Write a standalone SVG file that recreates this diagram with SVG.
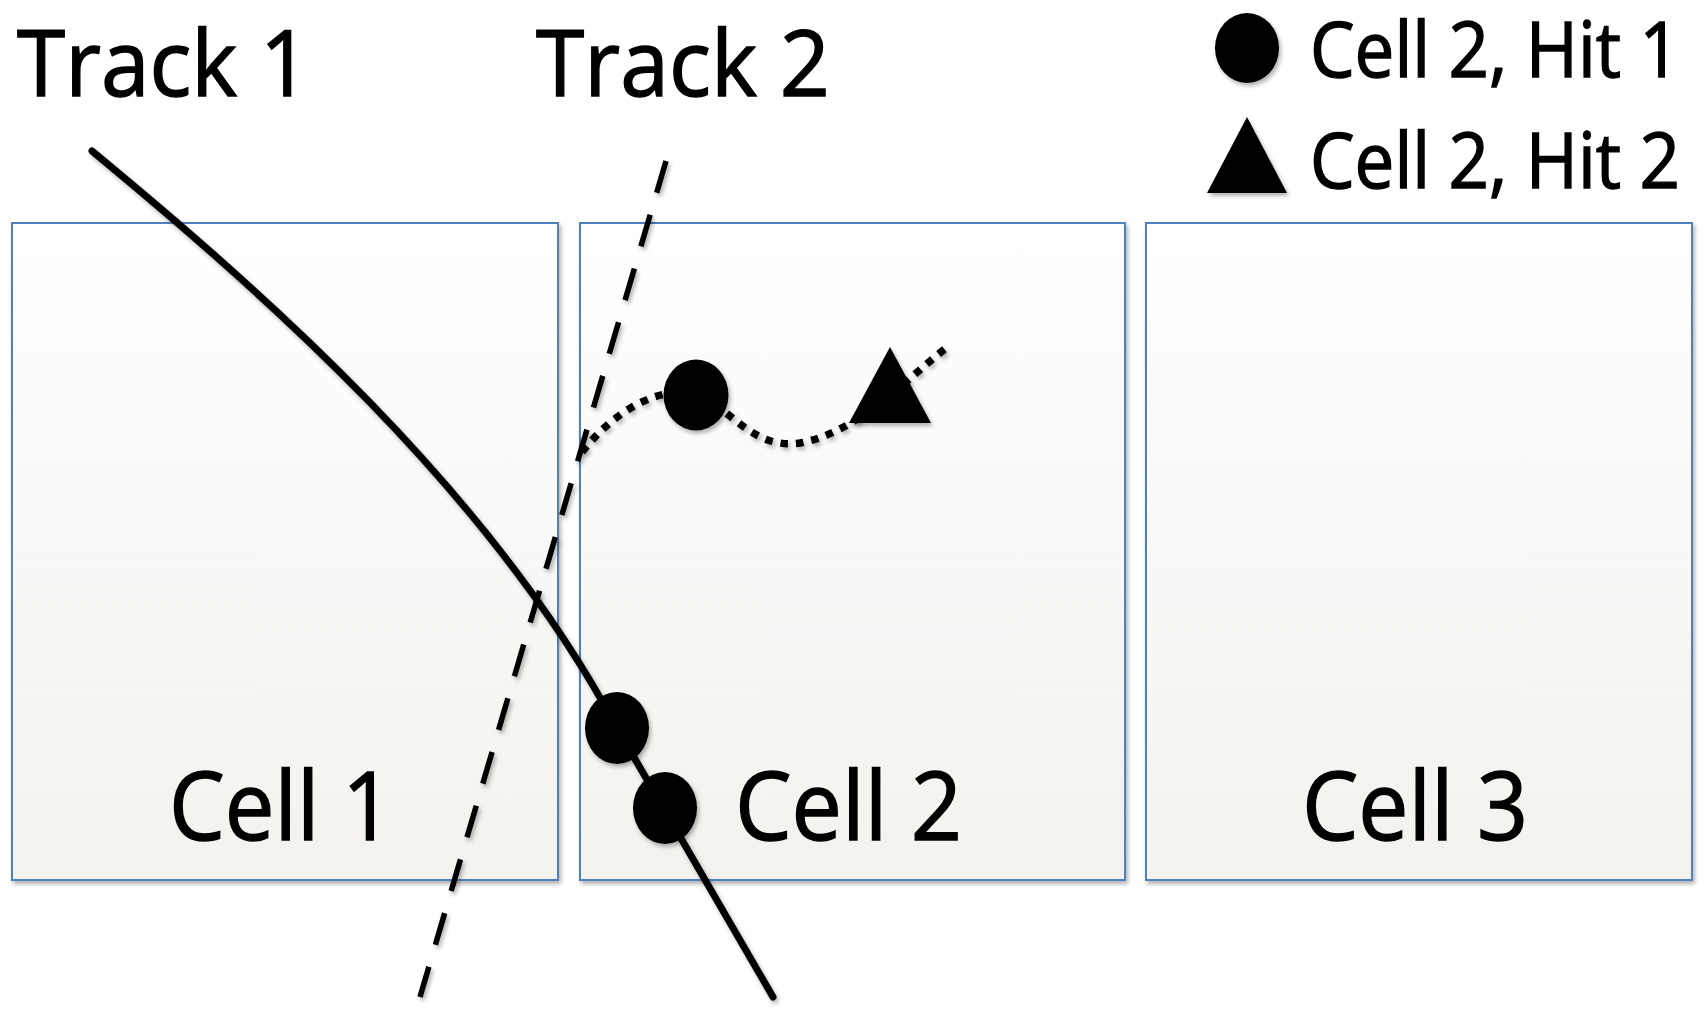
<svg xmlns="http://www.w3.org/2000/svg" width="1708" height="1012" viewBox="0 0 1708 1012">
  <defs>
    <linearGradient id="cellFill" x1="0" y1="0" x2="0" y2="1">
      <stop offset="0" stop-color="#FFFFFF"/>
      <stop offset="1" stop-color="#F3F2EE"/>
    </linearGradient>
    <filter id="shadow" x="-10%" y="-10%" width="130%" height="130%">
      <feDropShadow dx="2" dy="3" stdDeviation="2" flood-color="#000" flood-opacity="0.3"/>
    </filter>
    <style>
      .cell { fill: url(#cellFill); stroke: #4F81BD; stroke-width: 2; }
      .label { font-family: "Open Sans", "Noto Sans", "Liberation Sans", sans-serif; fill: #000; stroke: #000; stroke-width: 1.4; }
      .big { font-size: 92px; }
      .cellTxt { font-size: 96px; }
      .legendTxt { font-size: 76px; }
      .hit { fill: #000; }
      .solid { fill: none; stroke: #000; stroke-width: 7; stroke-linecap: round; }
      .dashed { fill: none; stroke: #000; stroke-width: 5.5; stroke-dasharray: 33 23; }
      .dotted { fill: none; stroke: #000; stroke-width: 7.5; stroke-dasharray: 7.5 8; }
    </style>
  </defs>
  <rect x="0" y="0" width="1708" height="1012" fill="#FFFFFF"/>

  <g id="cell1">
    <rect class="cell" x="12" y="223" width="546" height="657" filter="url(#shadow)"/>
    <text class="label cellTxt" x="169" y="840" textLength="224" lengthAdjust="spacingAndGlyphs">Cell 1</text>
  </g>
  <g id="cell2">
    <rect class="cell" x="580" y="223" width="545" height="657" filter="url(#shadow)"/>
    <text class="label cellTxt" x="735" y="840" textLength="227" lengthAdjust="spacingAndGlyphs">Cell 2</text>
  </g>
  <g id="cell3">
    <rect class="cell" x="1146" y="223" width="546" height="657" filter="url(#shadow)"/>
    <text class="label cellTxt" x="1302" y="840" textLength="226" lengthAdjust="spacingAndGlyphs">Cell 3</text>
  </g>

  <g id="track1-label">
    <text class="label big" x="17" y="96" textLength="293" lengthAdjust="spacingAndGlyphs">Track 1</text>
  </g>
  <g id="track2-label">
    <text class="label big" x="536" y="96" textLength="294" lengthAdjust="spacingAndGlyphs">Track 2</text>
  </g>

  <g id="connectors">
    <path id="track1" class="solid" filter="url(#shadow)" d="M 92 151 C 260 290, 490 490, 617 728 L 773 997"/>
    <path id="track2" class="dashed" filter="url(#shadow)" d="M 666 161 L 420 997"/>
    <path id="hits-path" class="dotted" filter="url(#shadow)" d="M 582 452 C 615 410, 660 385, 695 395 C 730 405, 750 450, 800 443 C 860 432, 910 375, 950 345"/>
  </g>

  <g id="track1-hit1">
    <ellipse class="hit" cx="617" cy="728" rx="32" ry="36" filter="url(#shadow)"/>
  </g>
  <g id="track1-hit2">
    <ellipse class="hit" cx="665" cy="808" rx="32" ry="36" filter="url(#shadow)"/>
  </g>
  <g id="cell2-hit1">
    <ellipse class="hit" cx="696" cy="395" rx="32.5" ry="35.5" filter="url(#shadow)"/>
  </g>
  <g id="cell2-hit2">
    <polygon class="hit" points="890,347 849,423 931,423" filter="url(#shadow)"/>
  </g>

  <g id="legend-hit1">
    <ellipse class="hit" cx="1247" cy="48" rx="32" ry="35" filter="url(#shadow)"/>
    <text class="label legendTxt" x="1310" y="77" textLength="370" lengthAdjust="spacingAndGlyphs">Cell 2, Hit 1</text>
  </g>
  <g id="legend-hit2">
    <polygon class="hit" points="1247,117 1207,193 1287,193" filter="url(#shadow)"/>
    <text class="label legendTxt" x="1310" y="188" textLength="370" lengthAdjust="spacingAndGlyphs">Cell 2, Hit 2</text>
  </g>
</svg>
